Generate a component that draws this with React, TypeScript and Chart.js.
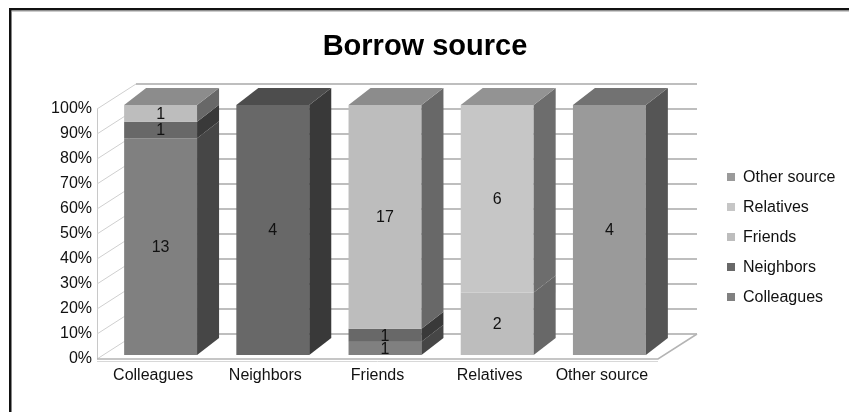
import React, { useEffect, useRef } from 'react';
import { Chart, registerables } from 'chart.js';

Chart.register(...registerables);

// ---- data ----
const chartTitle = 'Borrow source';
const categories = ['Colleagues', 'Neighbors', 'Friends', 'Relatives', 'Other source'];
const seriesNames = ['Colleagues', 'Neighbors', 'Friends', 'Relatives', 'Other source'];
const colleaguesCounts = [13, 0, 1, 0, 0];
const neighborsCounts = [1, 4, 1, 0, 0];
const friendsCounts = [1, 0, 17, 2, 0];
const relativesCounts = [0, 0, 0, 6, 0];
const otherSourceCounts = [0, 0, 0, 0, 4];
const seriesColors = ['#808080', '#686868', '#bdbdbd', '#c6c6c6', '#9a9a9a'];
const yTickValues = [0, 10, 20, 30, 40, 50, 60, 70, 80, 90, 100];

const FONT = "'Liberation Sans', Arial, sans-serif";

function shade(hex: string, f: number) {
  const n = parseInt(hex.slice(1), 16);
  const r = Math.round(((n >> 16) & 255) * f);
  const g = Math.round(((n >> 8) & 255) * f);
  const b = Math.round((n & 255) * f);
  return `rgb(${r},${g},${b})`;
}

// wall depth and bar depth (projection vectors)
const WX = 39, WY = 25;
const BX = 7.5, BY = -4;
const DX = 22, DY = 17;

const threeDPlugin = {
  id: 'threeD',
  beforeDraw(chart: any) {
    const ctx = chart.ctx;
    ctx.save();
    // outer frame
    ctx.fillStyle = '#111';
    ctx.fillRect(9, 8, 840, 2.5);
    ctx.fillRect(9, 8, 2.5, 404);
    ctx.fillStyle = '#9a9a9a';
    ctx.fillRect(11.5, 10.5, 838, 1);
    // title
    ctx.fillStyle = '#000';
    ctx.font = `bold 29px ${FONT}`;
    ctx.textAlign = 'center';
    ctx.textBaseline = 'middle';
    ctx.fillText(chartTitle, 425, 47);
    ctx.restore();
  },
  beforeDatasetsDraw(chart: any) {
    const ctx = chart.ctx;
    const { left, right, top, bottom } = chart.chartArea;
    const ys = chart.scales.y;
    ctx.save();
    // left wall front edge
    ctx.strokeStyle = '#c8c8c8';
    ctx.lineWidth = 1;
    ctx.beginPath();
    ctx.moveTo(left + 0.5, top);
    ctx.lineTo(left + 0.5, bottom);
    ctx.stroke();
    for (const v of yTickValues) {
      const yf = ys.getPixelForValue(v);
      // left wall diagonal
      ctx.strokeStyle = '#cfcfcf';
      ctx.lineWidth = 1;
      ctx.beginPath();
      ctx.moveTo(left, yf);
      ctx.lineTo(left + WX, yf - WY);
      ctx.stroke();
      // back wall gridline
      ctx.strokeStyle = '#bebebe';
      ctx.lineWidth = 2;
      ctx.beginPath();
      ctx.moveTo(left + WX, yf - WY);
      ctx.lineTo(right + WX, yf - WY);
      ctx.stroke();
    }
    // floor
    ctx.strokeStyle = '#b4b4b4';
    ctx.lineWidth = 1.5;
    ctx.beginPath();
    ctx.moveTo(left, bottom);
    ctx.lineTo(right, bottom);
    ctx.lineTo(right + WX, bottom - WY);
    ctx.stroke();
    ctx.strokeStyle = '#d8d8d8';
    ctx.lineWidth = 1;
    ctx.beginPath();
    ctx.moveTo(left, bottom + 2.5);
    ctx.lineTo(right, bottom + 2.5);
    ctx.stroke();
    ctx.restore();
  },
  afterDatasetsDraw(chart: any) {
    const ctx = chart.ctx;
    const nData = chart.data.labels.length;
    const nSets = chart.data.datasets.length;
    ctx.save();
    for (let i = 0; i < nData; i++) {
      let topSeg: any = null;
      const labels: any[] = [];
      for (let d = 0; d < nSets; d++) {
        const ds = chart.data.datasets[d];
        const count = ds.counts[i];
        if (!count) continue;
        const el = chart.getDatasetMeta(d).data[i];
        const p = el.getProps(['x', 'y', 'base', 'width'], true);
        const xl = p.x - p.width / 2 + BX;
        const xr = p.x + p.width / 2 + BX;
        const yt = Math.min(p.y, p.base) + BY;
        const yb = Math.max(p.y, p.base) + BY;
        const col = ds.faceColor;
        ctx.fillStyle = col;
        ctx.fillRect(xl, yt, xr - xl, yb - yt);
        ctx.fillStyle = shade(col, 0.55);
        ctx.beginPath();
        ctx.moveTo(xr, yb);
        ctx.lineTo(xr + DX, yb - DY);
        ctx.lineTo(xr + DX, yt - DY);
        ctx.lineTo(xr, yt);
        ctx.closePath();
        ctx.fill();
        topSeg = { xl, xr, yt, col };
        labels.push({ x: (xl + xr) / 2, y: (yt + yb) / 2, text: String(count) });
      }
      if (topSeg) {
        ctx.fillStyle = shade(topSeg.col, 0.74);
        ctx.beginPath();
        ctx.moveTo(topSeg.xl, topSeg.yt);
        ctx.lineTo(topSeg.xl + DX, topSeg.yt - DY);
        ctx.lineTo(topSeg.xr + DX, topSeg.yt - DY);
        ctx.lineTo(topSeg.xr, topSeg.yt);
        ctx.closePath();
        ctx.fill();
      }
      ctx.fillStyle = '#111';
      ctx.font = `16px ${FONT}`;
      ctx.textAlign = 'center';
      ctx.textBaseline = 'middle';
      for (const l of labels) ctx.fillText(l.text, l.x, l.y + 1);
    }
    ctx.restore();
  },
  afterDraw(chart: any) {
    const ctx = chart.ctx;
    ctx.save();
    ctx.font = `16px ${FONT}`;
    ctx.textAlign = 'left';
    ctx.textBaseline = 'middle';
    const sets = chart.data.datasets;
    for (let k = 0; k < sets.length; k++) {
      const ds = sets[sets.length - 1 - k];
      const cy = 177 + k * 30;
      ctx.fillStyle = ds.faceColor;
      ctx.fillRect(727, cy - 4, 8, 8);
      ctx.fillStyle = '#111';
      ctx.fillText(ds.label, 743, cy + 1);
    }
    ctx.restore();
  },
};

export default function App() {
  const ref = useRef<HTMLCanvasElement>(null);
  useEffect(() => {
    if (!ref.current) return;
    const seriesCounts = [colleaguesCounts, neighborsCounts, friendsCounts, relativesCounts, otherSourceCounts];
    const totals = categories.map((_, i) => seriesCounts.reduce((s, arr) => s + arr[i], 0));
    const datasets = seriesNames.map((name, s) => ({
      label: name,
      data: seriesCounts[s].map((c, i) => (c / totals[i]) * 100),
      counts: seriesCounts[s],
      faceColor: seriesColors[s],
      backgroundColor: 'rgba(0,0,0,0)',
      borderWidth: 0,
      barPercentage: 0.65,
      categoryPercentage: 1,
    }));
    const chart = new Chart(ref.current, {
      type: 'bar',
      data: { labels: categories, datasets: datasets as any },
      options: {
        responsive: false,
        animation: false,
        layout: { padding: { left: 0, right: 191, top: 109, bottom: 23 } },
        plugins: {
          legend: { display: false },
          title: { display: false },
          tooltip: { enabled: false },
        },
        scales: {
          x: {
            stacked: true,
            grid: { display: false, drawTicks: false },
            border: { display: false },
            ticks: { font: { family: FONT, size: 16 }, color: '#111', padding: 7 },
            afterFit: (s: any) => { s.height = 30; },
          },
          y: {
            stacked: true,
            min: 0,
            max: 100,
            afterBuildTicks: (s: any) => { s.ticks = yTickValues.map((v) => ({ value: v })); },
            ticks: { font: { family: FONT, size: 16 }, color: '#111', padding: 5, callback: (v: any) => v + '%' },
            grid: { display: false, drawTicks: false },
            border: { display: false },
            afterFit: (s: any) => { s.width = 97; },
          },
        },
      } as any,
      plugins: [threeDPlugin],
    });
    return () => chart.destroy();
  }, []);
  return (
    <div style={{ position: 'absolute', left: 0, top: 0, width: 849, height: 412, background: '#fff' }}>
      <canvas ref={ref} width={849} height={412} style={{ width: 849, height: 412, display: 'block' }} />
    </div>
  );
}
